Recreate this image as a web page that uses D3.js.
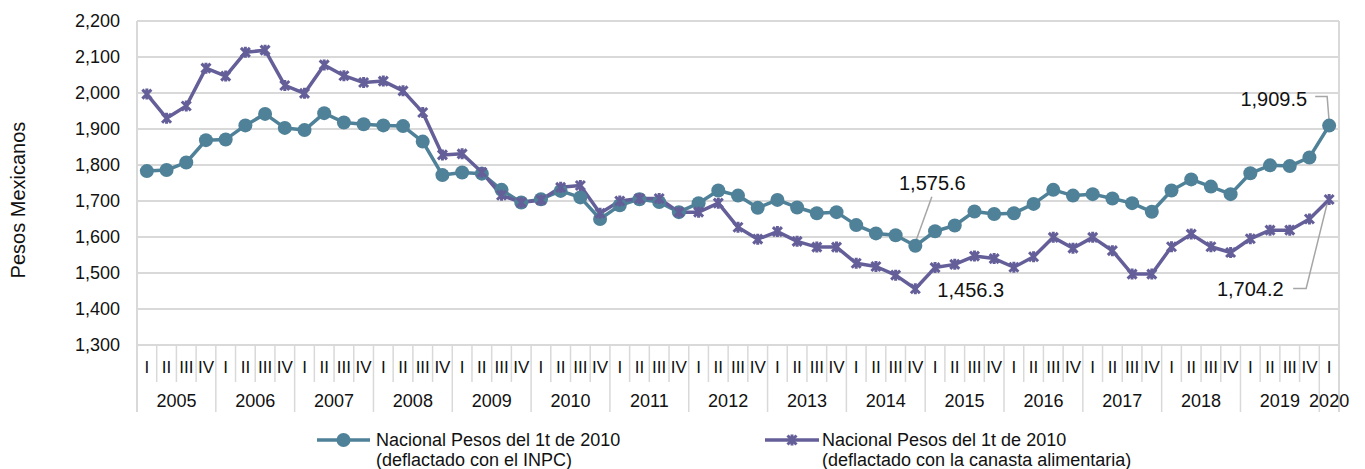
<!DOCTYPE html>
<html>
<head>
<meta charset="utf-8">
<script src="https://cdn.jsdelivr.net/npm/d3@7"></script>
<style>
  html, body { margin: 0; padding: 0; background: #ffffff; }
  svg { display: block; font-family: "Liberation Sans", Arial, sans-serif; }
</style>
</head>
<body>
<svg id="chart" width="1365" height="469"></svg>
<script>
// ---------------- DATA ----------------
const years = ["2005","2006","2007","2008","2009","2010","2011","2012","2013","2014","2015","2016","2017","2018","2019","2020"];
const quarterNames = ["I","II","III","IV"];
const quarters = [];
years.forEach(y => {
  const n = (y === "2020") ? 1 : 4;
  for (let q = 0; q < n; q++) quarters.push({ year: y, q: quarterNames[q] });
});

const seriesNames = [
  ["Nacional Pesos del 1t de 2010", "(deflactado con el INPC)"],
  ["Nacional Pesos del 1t de 2010", "(deflactado con la canasta alimentaria)"]
];

const inpc = [
  1783, 1786, 1807, 1869,
  1871, 1910, 1942, 1903,
  1897, 1944, 1918, 1913,
  1910, 1908, 1865, 1772,
  1779, 1776, 1731, 1696,
  1705, 1728, 1710, 1650,
  1688, 1705, 1697, 1669,
  1694, 1729, 1715, 1681,
  1703, 1682, 1666, 1669,
  1633, 1610, 1605, 1575.6,
  1616, 1632, 1671, 1664,
  1666, 1692, 1731, 1715,
  1719, 1707, 1694, 1670,
  1729, 1760, 1740, 1719,
  1777, 1799, 1797, 1821,
  1909.5
];

const canasta = [
  1997, 1930, 1964, 2069,
  2047, 2113, 2119, 2021,
  1999, 2078, 2048, 2029,
  2033, 2006, 1946, 1828,
  1831, 1780, 1716, 1696,
  1703, 1738, 1743, 1666,
  1700, 1707, 1707, 1669,
  1669, 1694, 1627, 1594,
  1615, 1588, 1572, 1572,
  1527, 1518, 1494, 1456.3,
  1515, 1524, 1547, 1540,
  1516, 1545, 1599, 1569,
  1599, 1562, 1497, 1497,
  1573, 1608, 1573, 1557,
  1595, 1619, 1619, 1650,
  1704.2
];

const yTicks = [1300, 1400, 1500, 1600, 1700, 1800, 1900, 2000, 2100, 2200];

// annotated points: [series, index]
const annotations = [
  { s: 0, i: 39 },
  { s: 1, i: 39 },
  { s: 0, i: 60 },
  { s: 1, i: 60 }
];

// ---------------- LAYOUT ----------------
const svg = d3.select("#chart");
const L = 137, R = 1339, T = 21, B = 345;
const teal = "#4f8198", purple = "#645f99", grid = "#d9d9d9", textCol = "#111";

const idx = d3.range(quarters.length);
const x = d3.scaleBand().domain(idx).range([L, R]).padding(0);
const y = d3.scaleLinear().domain([1300, 2200]).range([B, T]);
const cx = i => x(i) + x.bandwidth() / 2;

// gridlines
svg.append("g").selectAll("line").data(yTicks).join("line")
  .attr("x1", L).attr("x2", R)
  .attr("y1", d => y(d)).attr("y2", d => y(d))
  .attr("stroke", grid).attr("stroke-width", 2);

// category separators
const bounds = d3.range(quarters.length + 1);
svg.append("g").selectAll("line").data(bounds).join("line")
  .attr("x1", i => i < quarters.length ? x(i) : R)
  .attr("x2", i => i < quarters.length ? x(i) : R)
  .attr("y1", i => (i === 0 || i === quarters.length) ? T : B)
  .attr("y2", i => (i % 4 === 0 || i === quarters.length) ? 412 : 382)
  .attr("stroke", grid).attr("stroke-width", i => (i === 0 || i === quarters.length) ? 2 : 1.5);

// y axis
const yAxis = svg.append("g")
  .attr("transform", `translate(${L},0)`)
  .call(d3.axisLeft(y).tickValues(yTicks).tickFormat(d3.format(",")).tickSize(0).tickPadding(17));
yAxis.select(".domain").remove();
yAxis.selectAll("text").attr("font-size", 18).attr("fill", textCol).attr("font-family", "Liberation Sans, Arial, sans-serif");

// quarter labels via axis
const xAxis = svg.append("g")
  .attr("transform", `translate(0,${B})`)
  .call(d3.axisBottom(x).tickFormat(i => quarters[i].q).tickSize(0).tickPadding(0));
xAxis.select(".domain").remove();
xAxis.selectAll("text")
  .attr("font-size", 17).attr("fill", textCol)
  .attr("font-family", "Liberation Sans, Arial, sans-serif")
  .attr("y", 22).attr("dy", "0.35em");

// year labels
const yearGroups = years.map(yr => {
  const ids = idx.filter(i => quarters[i].year === yr);
  return { yr, c: (x(ids[0]) + x(ids[ids.length - 1]) + x.bandwidth()) / 2 };
});
svg.append("g").selectAll("text").data(yearGroups).join("text")
  .attr("x", d => d.c).attr("y", 401).attr("dy", "0.35em")
  .attr("text-anchor", "middle").attr("font-size", 18).attr("fill", textCol)
  .text(d => d.yr);

// y title
svg.append("text")
  .attr("transform", "translate(18,200) rotate(-90)")
  .attr("text-anchor", "middle").attr("dy", "0.35em")
  .attr("font-size", 20).attr("fill", textCol)
  .text("Pesos Mexicanos");

// lines
const line = d3.line().x((d, i) => cx(i)).y(d => y(d));
const seriesList = [inpc, canasta];
const colors = [teal, purple];

// leader lines (under markers)
const leaderDefs = [
  [[16.5, -49], [1, -6]],
  null,
  [[-14, -29], [-2, -29], [0, -4]],
  [[-36, 89], [-23, 89], [-1, 0]]
];
const labelDefs = [
  { dx: 17, dy: -63, anchor: "middle" },
  { dx: 22, dy: 1.5, anchor: "start" },
  { dx: -22, dy: -26.5, anchor: "end" },
  { dx: -45.5, dy: 89.5, anchor: "end" }
];

seriesList.forEach((data, s) => {
  svg.append("path").datum(data)
    .attr("d", line).attr("fill", "none")
    .attr("stroke", colors[s]).attr("stroke-width", 3.5)
    .attr("stroke-linejoin", "round");
});

annotations.forEach((a, k) => {
  const px = cx(a.i), py = y(seriesList[a.s][a.i]);
  if (leaderDefs[k]) {
    svg.append("path")
      .attr("d", d3.line()(leaderDefs[k].map(p => [px + p[0], py + p[1]])))
      .attr("fill", "none").attr("stroke", "#a6a6a6").attr("stroke-width", 1.5);
  }
});

const starPath = "M-4.5,-4.5L4.5,4.5M-4.5,4.5L4.5,-4.5M0,-5.5L0,5.5";

// markers
svg.append("g").selectAll("circle").data(inpc).join("circle")
  .attr("cx", (d, i) => cx(i)).attr("cy", d => y(d)).attr("r", 7)
  .attr("fill", teal);
svg.append("g").selectAll("path").data(canasta).join("path")
  .attr("transform", (d, i) => `translate(${cx(i)},${y(d)})`)
  .attr("d", starPath).attr("stroke", purple).attr("stroke-width", 3)
  .attr("fill", "none");

// annotation labels
annotations.forEach((a, k) => {
  const v = seriesList[a.s][a.i];
  const px = cx(a.i), py = y(v);
  svg.append("text")
    .attr("x", px + labelDefs[k].dx).attr("y", py + labelDefs[k].dy)
    .attr("dy", "0.35em").attr("text-anchor", labelDefs[k].anchor)
    .attr("font-size", 20).attr("fill", textCol)
    .text(d3.format(",.1f")(v));
});

// legend
const legendItems = [
  { x0: 317, x1: 370, tx: 376, s: 0 },
  { x0: 765, x1: 819, tx: 822, s: 1 }
];
legendItems.forEach(it => {
  const g = svg.append("g");
  g.append("line").attr("x1", it.x0).attr("x2", it.x1).attr("y1", 440).attr("y2", 440)
    .attr("stroke", colors[it.s]).attr("stroke-width", 3.5);
  const mx = (it.x0 + it.x1) / 2;
  if (it.s === 0) {
    g.append("circle").attr("cx", mx).attr("cy", 440).attr("r", 7).attr("fill", teal);
  } else {
    g.append("path").attr("transform", `translate(${mx},440)`).attr("d", starPath)
      .attr("stroke", purple).attr("stroke-width", 3).attr("fill", "none");
  }
  const t = g.append("text").attr("x", it.tx).attr("y", 440).attr("font-size", 18).attr("fill", textCol);
  t.append("tspan").attr("x", it.tx).attr("dy", "0.35em").text(seriesNames[it.s][0]);
  t.append("tspan").attr("x", it.tx).attr("dy", "1.1em").text(seriesNames[it.s][1]);
});
</script>
</body>
</html>
